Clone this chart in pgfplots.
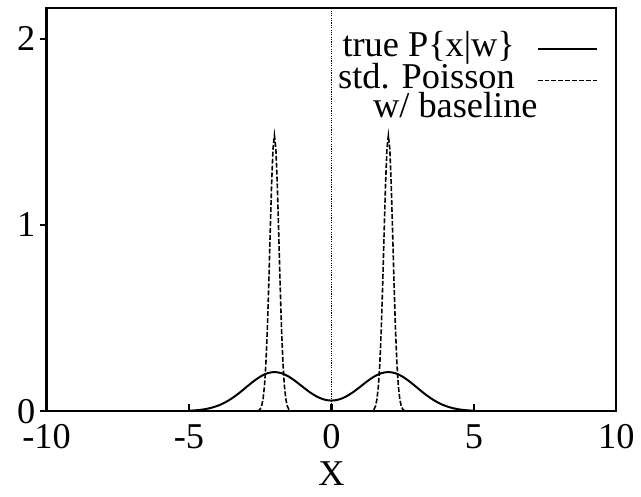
\documentclass[border=0pt]{standalone}
\usepackage{fontspec}
\setmainfont{Liberation Serif}
\usepackage{pgfplots}
\pgfplotsset{compat=1.18}

\begin{document}
\begin{tikzpicture}
\begin{axis}[
  name=ax,
  scale only axis,
  width=287.5bp, height=203.5bp,
  xmin=-10, xmax=10, ymin=0, ymax=2.165,
  xtick={-10,-5,0,5,10}, ytick={0,1,2},
  xtick pos=bottom, ytick pos=left,
  tick align=inside,
  major tick length=3.5bp,
  ytick style={xshift=-3.5bp, line width=1.1bp, black},
  xtick style={line width=1.1bp, black},
  axis line style={line width=1.2bp},
  font=\fontsize{18.4}{22}\selectfont,
  /pgf/number format/assume math mode=true,
  xticklabel style={yshift=-3.2bp},
  yticklabel style={xshift=-2.2bp},
  xlabel={X},
  xlabel style={at={(rel axis cs:0.5,0)}, anchor=north, inner sep=0pt, yshift=-25.5bp},
  legend style={at={(1,1)}, anchor=north east, xshift=-9bp, yshift=-12.5bp,
                draw=none, fill=none, inner sep=0pt, row sep=0pt, column sep=11bp,
                font=\fontsize{18.4}{22}\selectfont,
                nodes={inner sep=0pt, text height=12bp, text depth=4bp}},
  legend cell align=right,
  legend plot pos=right,
  legend image code/.code={\draw[#1] (0bp,0bp) -- (30bp,0bp);},
]
% gnuplot-style zero axis
\addplot[black, line width=0.6bp, dash pattern=on 0.6bp off 0.6bp, forget plot]
  coordinates {(0,0) (0,2.165)};

\addplot[black, line width=1bp, smooth] coordinates {
(-5,0.0023) (-4.75,0.0048) (-4.5,0.0092) (-4.25,0.0167) (-4,0.0284)
(-3.75,0.0454) (-3.5,0.0682) (-3.25,0.0961) (-3,0.1274) (-2.75,0.1585)
(-2.5,0.1853) (-2.25,0.2036) (-2,0.2101) (-1.75,0.2037) (-1.5,0.1858)
(-1.25,0.1596) (-1,0.1297) (-0.75,0.1009) (-0.5,0.0774) (-0.25,0.0621)
(0,0.0568)
(0.25,0.0621) (0.5,0.0774) (0.75,0.1009) (1,0.1297) (1.25,0.1596)
(1.5,0.1858) (1.75,0.2037) (2,0.2101) (2.25,0.2036) (2.5,0.1853)
(2.75,0.1585) (3,0.1274) (3.25,0.0961) (3.5,0.0682) (3.75,0.0454)
(4,0.0284) (4.25,0.0167) (4.5,0.0092) (4.75,0.0048) (5,0.0023)
};
\addlegendentry{true P\{x|w\}}

\addplot[black, line width=0.8bp, dash pattern=on 2.5bp off 1bp] coordinates {
(-2.6,0.001) (-2.55,0.004) (-2.5,0.011) (-2.45,0.028) (-2.4,0.065)
(-2.35,0.135) (-2.3,0.255) (-2.25,0.437) (-2.2,0.678) (-2.15,0.954)
(-2.1,1.217) (-2.05,1.409) (-2,1.48) (-1.95,1.409) (-1.9,1.217)
(-1.85,0.954) (-1.8,0.678) (-1.75,0.437) (-1.7,0.255) (-1.65,0.135)
(-1.6,0.065) (-1.55,0.028) (-1.5,0.011) (-1.45,0.004) (-1.4,0.001)
(1.4,0.001) (1.45,0.004) (1.5,0.011) (1.55,0.028) (1.6,0.065)
(1.65,0.135) (1.7,0.255) (1.75,0.437) (1.8,0.678) (1.85,0.954)
(1.9,1.217) (1.95,1.409) (2,1.48) (2.05,1.409) (2.1,1.217)
(2.15,0.954) (2.2,0.678) (2.25,0.437) (2.3,0.255) (2.35,0.135)
(2.4,0.065) (2.45,0.028) (2.5,0.011) (2.55,0.004) (2.6,0.001)
};
\addlegendentry{std. Poisson}
\addlegendimage{empty legend}
\addlegendentry{\raisebox{1.5bp}{w/ baseline}\hspace*{-11.5bp}}
\end{axis}
\path ([xshift=-23.5bp,yshift=4bp]ax.north west) ([xshift=9.5bp,yshift=-43bp]ax.south east);
\end{tikzpicture}
\end{document}
